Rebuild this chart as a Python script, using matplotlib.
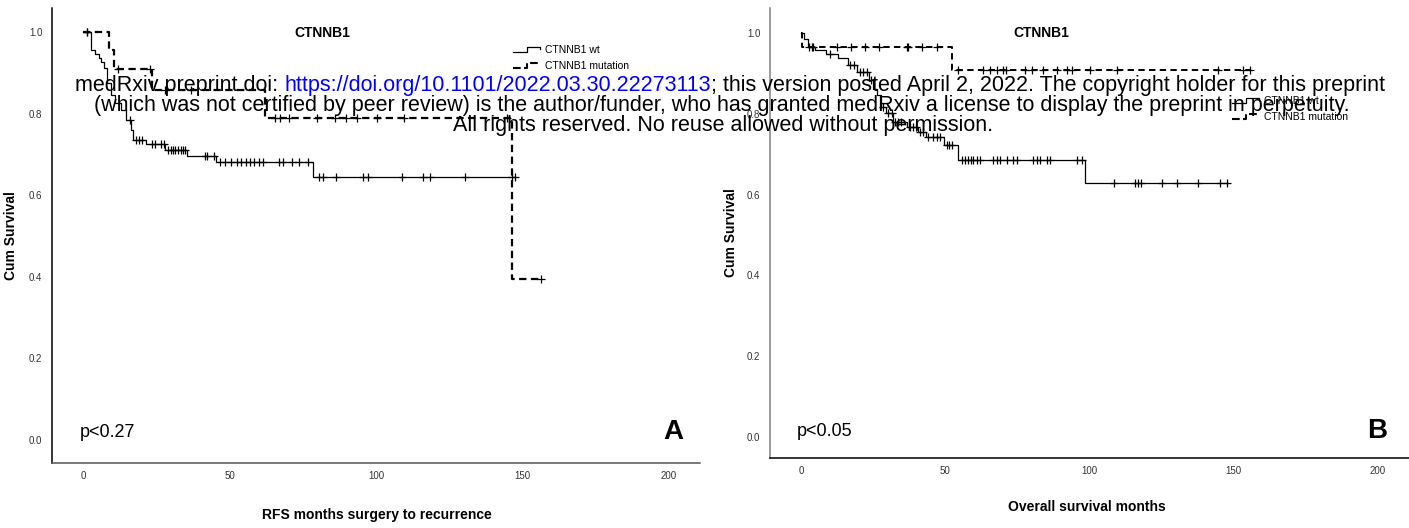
import matplotlib
matplotlib.use("Agg")
import matplotlib.pyplot as plt
from matplotlib.lines import Line2D
from matplotlib.legend_handler import HandlerLine2D
import numpy as np

plt.rcParams['font.family'] = ['Liberation Sans', 'DejaVu Sans']

# ---------------- data ----------------
# Panel A: RFS (months surgery to recurrence)
rfs_wt_event_t = [2.6, 4.0, 5.3, 6.2, 7.2, 8.3, 9.5, 11.0, 13.1, 14.8, 16.3, 17.1, 21.6, 28.1, 35.6, 45.5, 78.6]
rfs_wt_event_s = [0.956, 0.947, 0.937, 0.927, 0.911, 0.875, 0.845, 0.825, 0.809, 0.784, 0.760, 0.735, 0.725, 0.711, 0.696, 0.681, 0.644]
rfs_wt_censor_t = [1.5, 16.0, 18.1, 19.0, 20.2, 23.4, 24.7, 26.5, 27.5, 29.0, 29.9, 30.7, 31.5, 32.4, 33.3,
                   34.1, 34.9, 41.5, 42.4, 44.7, 46.8, 48.5, 50.5, 52.6, 53.9, 55.6, 57.0, 58.4, 60.1, 61.4,
                   66.9, 68.3, 71.3, 73.7, 76.8, 80.7, 82.0, 86.3, 95.5, 97.4, 108.8, 115.9, 118.4, 130.4,
                   146.3, 147.4]
rfs_wt_end = 147.6

rfs_mut_event_t = [8.8, 10.6, 23.5, 62.1, 146.5]
rfs_mut_event_s = [0.956, 0.909, 0.858, 0.789, 0.395]
rfs_mut_censor_t = [1.5, 11.8, 22.8, 27.9, 37.0, 65.4, 67.4, 70.4, 79.9, 85.9, 89.7, 93.5, 100.3, 109.6,
                    144.6, 156.3]
rfs_mut_end = 156.3

# Panel B: overall survival months
os_wt_event_t = [1.2, 2.5, 5.0, 8.5, 12.9, 16.4, 19.3, 23.6, 25.1, 26.5, 27.7, 29.3, 32.0, 36.6, 40.7,
                 43.2, 49.7, 54.5, 98.5]
os_wt_event_s = [0.985, 0.966, 0.958, 0.947, 0.937, 0.921, 0.904, 0.884, 0.862, 0.847, 0.818, 0.801,
                 0.780, 0.768, 0.756, 0.743, 0.724, 0.686, 0.628]
os_wt_censor_t = [2.9, 4.0, 10.0, 17.0, 18.5, 20.4, 21.6, 22.8, 24.3, 28.5, 30.3, 31.4, 32.6, 33.7, 34.7,
                  37.8, 38.9, 39.7, 41.2, 42.4, 44.1, 45.9, 47.0, 48.2, 50.5, 51.3, 52.2,
                  55.7, 56.8, 58.0, 58.8, 59.7, 60.9, 62.0, 66.7, 67.8, 69.0, 71.3, 73.6, 74.8, 80.5,
                  81.7, 82.8, 85.2, 86.3, 95.6, 97.3,
                  108.5, 115.6, 116.8, 117.9, 125.0, 130.5, 137.5, 145.4, 147.7]
os_wt_end = 148.0

os_mut_event_t = [0.3, 52.2]
os_mut_event_s = [0.966, 0.908]
os_mut_censor_t = [3.7, 12.4, 17.3, 22.2, 27.1, 36.6, 37.2, 41.8, 47.0, 54.5, 63.2, 65.5, 67.8, 69.9,
                   71.1, 77.6, 79.9, 84.0, 88.6, 92.1, 93.8, 100.2, 109.5, 144.7, 153.3, 155.7]
os_mut_end = 155.7

group_labels = ["CTNNB1 wt", "CTNNB1 mutation"]
panel_title = "CTNNB1"
x_ticks = [0, 50, 100, 150, 200]
y_ticks = [0.0, 0.2, 0.4, 0.6, 0.8, 1.0]

W, H = 1409, 528
fig = plt.figure(figsize=(W / 100, H / 100), dpi=100)


def px_axes(x0, y0, x1, y1):
    return fig.add_axes([x0 / W, 1 - y1 / H, (x1 - x0) / W, (y1 - y0) / H])


def km(ax, ev_t, ev_s, cen_t, end_t, **kw):
    t = np.concatenate([[0.0], ev_t, [end_t]])
    s = np.concatenate([[1.0], ev_s, [ev_s[-1]]])
    ax.step(t, s, where='post', color='black', **kw)
    ev_t = np.asarray(ev_t)
    ev_s = np.asarray(ev_s)
    cs = []
    for c in cen_t:
        idx = np.searchsorted(ev_t, c, side='right') - 1
        cs.append(1.0 if idx < 0 else ev_s[idx])
    ax.plot(cen_t, cs, linestyle='none', marker='+', color='black', markersize=5.5, mew=0.9)


def style_axes(ax, xl, yl, yspine_col, xspine_col):
    ax.set_xlim(*xl)
    ax.set_ylim(*yl)
    for sp in ['top', 'right']:
        ax.spines[sp].set_visible(False)
    ax.spines['left'].set_color(yspine_col)
    ax.spines['bottom'].set_color(xspine_col)
    ax.spines['left'].set_linewidth(1.1)
    ax.spines['bottom'].set_linewidth(1.1)
    ax.set_xticks(x_ticks)
    ax.set_xticklabels([str(v) for v in x_ticks])
    ax.set_yticks(y_ticks)
    ax.set_yticklabels([f"{v:.1f}" for v in y_ticks])
    ax.tick_params(length=0, labelsize=7, labelcolor='#333333')
    ax.tick_params(axis='x', pad=6)
    ax.tick_params(axis='y', pad=7)


class StepHandler(HandlerLine2D):
    """Legend symbol drawn as a small step, SPSS style."""
    def create_artists(self, legend, orig_handle, xdescent, ydescent, width, height, fontsize, trans):
        x0 = -xdescent
        y0 = -ydescent
        lo = y0 + height * 0.15
        hi = y0 + height * 0.85
        xs = [x0, x0 + width * 0.5, x0 + width * 0.5, x0 + width, x0 + width]
        ys = [lo, lo, hi, hi, y0 + height * 0.6]
        ln = Line2D(xs, ys, color=orig_handle.get_color(), lw=orig_handle.get_linewidth(),
                    linestyle=orig_handle.get_linestyle())
        ln.set_transform(trans)
        return [ln]


# ---------- Panel A ----------
axA = px_axes(52, 8, 700, 463)
km(axA, rfs_wt_event_t, rfs_wt_event_s, rfs_wt_censor_t, rfs_wt_end, lw=0.9)
km(axA, rfs_mut_event_t, rfs_mut_event_s, rfs_mut_censor_t, rfs_mut_end, lw=1.6, linestyle=(0, (3.3, 2.0)))
style_axes(axA, (-10.6, 210.6), (-0.0564, 1.0588), 'black', '#555555')
axA.text(0.417, 0.945, panel_title, transform=axA.transAxes, ha='center', va='center',
         fontsize=10, fontweight='bold')
axA.set_ylabel("Cum Survival", fontsize=10, fontweight='bold')
axA.yaxis.set_label_coords(-0.052, 0.5)
axA.set_xlabel("RFS months surgery to recurrence", fontsize=10, fontweight='bold')
axA.xaxis.set_label_coords(0.5015, -0.099)
axA.text(0.043, 0.068, "p<0.27", transform=axA.transAxes, ha='left', va='center', fontsize=13)
axA.text(0.975, 0.068, "A", transform=axA.transAxes, ha='right', va='center', fontsize=20,
         fontweight='bold')

# ---------- Panel B ----------
axB = px_axes(770, 8, 1409, 458)
km(axB, os_wt_event_t, os_wt_event_s, os_wt_censor_t, os_wt_end, lw=0.9)
km(axB, os_mut_event_t, os_mut_event_s, os_mut_censor_t, os_mut_end, lw=1.4, linestyle=(0, (3.3, 2.2)))
style_axes(axB, (-10.75, 210.75), (-0.052, 1.062), '#808080', 'black')
axB.text(0.424, 0.944, panel_title, transform=axB.transAxes, ha='center', va='center',
         fontsize=10, fontweight='bold')
axB.set_ylabel("Cum Survival", fontsize=10, fontweight='bold')
axB.yaxis.set_label_coords(-0.05, 0.5)
axB.set_xlabel("Overall survival months", fontsize=10, fontweight='bold')
axB.xaxis.set_label_coords(0.496, -0.093)
axB.text(0.042, 0.06, "p<0.05", transform=axB.transAxes, ha='left', va='center', fontsize=13)
axB.text(0.966, 0.06, "B", transform=axB.transAxes, ha='right', va='center', fontsize=20,
         fontweight='bold')

# ---------- legends ----------
handles = [Line2D([], [], color='black', lw=0.9),
           Line2D([], [], color='black', lw=1.5, linestyle=(0, (2.0, 1.5)))]
for (lx, ly) in [(513, 45), (1232, 96)]:
    fig.legend(handles, group_labels, loc='upper left', bbox_to_anchor=(lx / W, 1 - ly / H),
               bbox_transform=fig.transFigure, frameon=False, fontsize=7.5,
               handlelength=2.6, handletextpad=0.45, labelspacing=0.55, borderpad=0,
               borderaxespad=0, handler_map={Line2D: StepHandler()})

# ---------- medRxiv watermark ----------
wm_fs = 13
wm1a = "medRxiv preprint doi: "
wm1b = "https://doi.org/10.1101/2022.03.30.22273113"
wm1c = "; this version posted April 2, 2022. The copyright holder for this preprint"
wm2 = "(which was not certified by peer review) is the author/funder, who has granted medRxiv a license to display the preprint in perpetuity."
wm3 = "All rights reserved. No reuse allowed without permission."

renderer = fig.canvas.get_renderer()
tmp = fig.text(0, 0, wm1a + wm1b + wm1c, fontsize=wm_fs)
w_full = tmp.get_window_extent(renderer).width
tmp.remove()
wm_fs = wm_fs * 1307.0 / w_full

x = 75.0
for part, col in [(wm1a, 'black'), (wm1b, '#0000ff'), (wm1c, 'black')]:
    t = fig.text(x / W, 1 - 91 / H, part, fontsize=wm_fs, color=col, ha='left', va='baseline')
    x += t.get_window_extent(renderer).width
fig.text(722 / W, 1 - 111 / H, wm2, fontsize=wm_fs, ha='center', va='baseline')
fig.text(723 / W, 1 - 131 / H, wm3, fontsize=wm_fs, ha='center', va='baseline')

fig.savefig("out.png", dpi=100)
